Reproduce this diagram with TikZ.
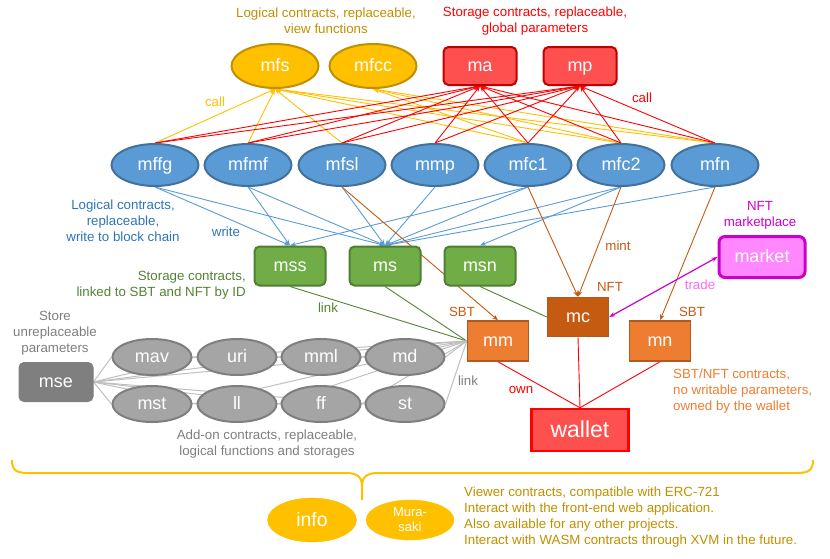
\documentclass[tikz,border=0pt]{standalone}
\usepackage{fontspec}
\setmainfont{Liberation Sans}
\usepackage{xcolor}
\usepackage{tikz}
\usetikzlibrary{shapes.geometric,arrows.meta,backgrounds}

\definecolor{gold}{HTML}{FFC000}
\definecolor{golddark}{HTML}{BF9000}
\definecolor{redfill}{HTML}{FF5050}
\definecolor{reddark}{HTML}{C00000}
\definecolor{bluefill}{HTML}{5B9BD5}
\definecolor{bluedark}{HTML}{41719C}
\definecolor{bluetext}{HTML}{2E75B6}
\definecolor{greenfill}{HTML}{70AD47}
\definecolor{greendark}{HTML}{507E32}
\definecolor{greentext}{HTML}{548235}
\definecolor{orangefill}{HTML}{ED7D31}
\definecolor{orangedark}{HTML}{AE5A21}
\definecolor{brownfill}{HTML}{C55A11}
\definecolor{pinkfill}{HTML}{FF88FF}
\definecolor{magenta}{HTML}{CC00CC}
\definecolor{greyfill}{HTML}{A5A5A5}
\definecolor{greydark}{HTML}{7F7F7F}
\definecolor{greyline}{HTML}{BFBFBF}

\newcommand{\lblfont}{\fontsize{13.3}{16}\selectfont}
\newcommand{\ctrfont}{\fontsize{18}{20}\selectfont}

\begin{document}
\begin{tikzpicture}[x=1pt,y=-1pt,>={Stealth[length=6pt,width=4.5pt]}]
        \useasboundingbox (0,0) rectangle (830,558);

        \tikzstyle{lbl}=[font=\lblfont,align=center,inner sep=0pt]
        \tikzstyle{ctr}=[font=\ctrfont,text=white,inner sep=0pt,text height=11.5pt,text depth=0pt]
        \tikzstyle{goldcall}=[color=gold,line width=0.9pt]
        \tikzstyle{redcall}=[color=red,line width=0.9pt]
        \tikzstyle{bluewrite}=[color=bluefill,line width=0.9pt]
        \tikzstyle{orangemint}=[color=brownfill,line width=0.9pt]
        \tikzstyle{greenlink}=[color=greentext,line width=0.9pt]
        \tikzstyle{greylink}=[color=greyline,line width=1pt]

        %% Viewer and storage contracts on top
        \begin{scope}[
            every node/.style={ctr,ellipse,draw=golddark,fill=gold,line width=2pt,
            minimum width=87pt,minimum height=44pt}
        ]
            \node (mfs) at (275,66) {mfs};
            \node (mfcc) at (373,66) {mfcc};
        \end{scope}
        \begin{scope}[
            every node/.style={ctr,rounded corners=5pt,draw=reddark,fill=redfill,line width=2pt,
            minimum width=73pt,minimum height=38pt}
        ]
            \node (ma) at (480,66) {ma};
            \node (mp) at (580,66) {mp};
        \end{scope}
        \node[lbl,text=golddark] (goldtext) at (326,21) {Logical contracts, replaceable,\\view functions};
        \node[lbl,text=red] (redtext) at (535,21) {Storage contracts, replaceable,\\global parameters};

        %% Logical contracts
        \begin{scope}[
            every node/.style={ctr,ellipse,draw=bluedark,fill=bluefill,line width=2pt,
            minimum width=87pt,minimum height=42pt}
        ]
            \node (mffg) at (155,165) {mffg};
            \node (mfmf) at (248,165) {mfmf};
            \node (mfsl) at (342,165) {mfsl};
            \node (mmp) at (435,165) {mmp};
            \node (mfc1) at (528,165) {mfc1};
            \node (mfc2) at (621,165) {mfc2};
            \node (mfn) at (715,165) {mfn};
        \end{scope}
        \node[lbl,text=bluetext] (bluelbl) at (123,221) {Logical contracts,\\replaceable,\\write to block chain};

        %% Storage contracts
        \begin{scope}[
            every node/.style={ctr,rounded corners=5pt,draw=greendark,fill=greenfill,line width=2pt,
            minimum width=71pt,minimum height=39pt}
        ]
            \node (mss) at (290,266) {mss};
            \node (ms) at (385,266) {ms};
            \node (msn) at (480,266) {msn};
        \end{scope}
        \node[lbl,align=right,anchor=east,text=greentext] (greenlbl) at (246,285) {Storage contracts,\\linked to SBT and NFT by ID};

        %% SBT / NFT contracts
        \node[ctr,draw=orangedark,fill=brownfill,line width=1.5pt,minimum width=61pt,minimum height=39pt] (mc) at (578,317) {mc};
        \begin{scope}[
            every node/.style={ctr,draw=orangedark,fill=orangefill,line width=1.5pt,
            minimum width=61pt,minimum height=40pt}
        ]
            \node (mm) at (498,341) {mm};
            \node (mn) at (660,341) {mn};
        \end{scope}
        \node[lbl,align=left,anchor=west,text=orangefill] (sbtnftlbl) at (673,391) {SBT/NFT contracts,\\no writable parameters,\\owned by the wallet};

        \node[ctr,rounded corners=6pt,draw=magenta,fill=pinkfill,line width=3pt,minimum width=86pt,minimum height=41pt] (market) at (762,257) {market};
        \node[lbl,text=magenta] (marketlbl) at (760,215) {NFT\\marketplace};

        \node[ctr,font=\fontsize{23}{25}\selectfont,text height=14.7pt,draw=red,fill=redfill,line width=2.5pt,minimum width=97pt,minimum height=42pt] (wallet) at (580,430) {wallet};

        %% Add-on contracts
        \node[ctr,rounded corners=5pt,draw=greydark,fill=greydark,line width=1pt,minimum width=74pt,minimum height=39pt] (mse) at (56,382) {mse};
        \node[lbl,text=greydark] (storelbl) at (55,333) {Store\\unreplaceable\\parameters};
        \begin{scope}[
            every node/.style={ctr,ellipse,draw=greydark,fill=greyfill,line width=2pt,
            minimum width=79pt,minimum height=36pt}
        ]
            \node (mav) at (152,357) {mav};
            \node (uri) at (237,357) {uri};
            \node (mml) at (321,357) {mml};
            \node (md) at (405,357) {md};
            \node (mst) at (152,404) {mst};
            \node (ll) at (237,404) {ll};
            \node (ff) at (321,404) {ff};
            \node (st) at (405,404) {st};
        \end{scope}
        \node[lbl,text=greydark] (addonlbl) at (267,444) {Add-on contracts, replaceable,\\logical functions and storages};

        %% Edge labels
        \node[lbl,text=gold] (callgold) at (215,102) {call};
        \node[lbl,text=red] (callred) at (642,98) {call};
        \node[lbl,text=bluetext] (writelbl) at (226,232) {write};
        \node[lbl,text=greentext] (linkgreen) at (328,308) {link};
        \node[lbl,text=greydark] (linkgrey) at (468,381) {link};
        \node[lbl,text=brownfill] (mintlbl) at (618,246) {mint};
        \node[lbl,text=brownfill] (nftlbl) at (610,287) {NFT};
        \node[lbl,text=brownfill] (sbtmm) at (462,312) {SBT};
        \node[lbl,text=brownfill] (sbtmn) at (692,312) {SBT};
        \node[lbl,text=pinkfill!80!magenta] (tradelbl) at (700,285) {trade};
        \node[lbl,text=red] (ownlbl) at (521,390) {own};

        %% Edges, behind the nodes
        \begin{scope}[on background layer]
            \path[->,goldcall] (mffg.north) edge (mfs.south);
            \path[->,goldcall] (mfmf.north) edge (mfs.south);
            \path[->,goldcall] (mfsl.north) edge (mfs.south);
            \path[->,goldcall] (mfc1.north) edge (mfs.south) edge (mfcc.south);
            \path[->,goldcall] (mfc2.north) edge (mfs.south) edge (mfcc.south);
            \path[->,goldcall] (mfn.north) edge (mfs.south) edge (mfcc.south);

            \path[->,redcall] (mffg.north) edge (ma.south) edge (mp.south);
            \path[->,redcall] (mfmf.north) edge (ma.south) edge (mp.south);
            \path[->,redcall] (mfsl.north) edge (ma.south) edge (mp.south);
            \path[->,redcall] (mmp.north) edge (ma.south) edge (mp.south);
            \path[->,redcall] (mfc1.north) edge (ma.south) edge (mp.south);
            \path[->,redcall] (mfc2.north) edge (ma.south) edge (mp.south);
            \path[->,redcall] (mfn.north) edge (ma.south) edge (mp.south);

            \path[->,bluewrite] (mffg.south) edge (mss.north) edge (ms.north);
            \path[->,bluewrite] (mfmf.south) edge (mss.north) edge (ms.north);
            \path[->,bluewrite] (mfsl.south) edge (ms.north);
            \path[->,bluewrite] (mmp.south) edge (ms.north);
            \path[->,bluewrite] (mfc1.south) edge (mss.north) edge (ms.north);
            \path[->,bluewrite] (mfc2.south) edge (ms.north) edge (msn.north);
            \path[->,bluewrite] (mfn.south) edge (ms.north);

            \path[->,orangemint] (mfsl.south) edge (mm.north);
            \path[->,orangemint] (mfc1.south) edge (mc.north);
            \path[->,orangemint] (mfc2.south) edge (mc.north);
            \path[->,orangemint] (mfn.south) edge (mn.north);

            \path[greenlink] (mss.south) edge (mm.west);
            \path[greenlink] (ms.south) edge (mm.west);
            \path[greenlink] (msn.south) edge (mc.west);

            \path[greylink] (mse.east) edge (mav.west) edge (uri.west) edge (mml.west) edge (md.west)
                edge (mst.west) edge (ll.west) edge (ff.west) edge (st.west);
            \path[greylink] (mm.west) edge (mav.east) edge (uri.east) edge (mml.east) edge (md.east)
                edge (mst.east) edge (ll.east) edge (ff.east) edge (st.east);

            \path[<->,color=magenta,line width=1.2pt] (mc.east) edge (market.west);

            \path[redcall] (mm.south) edge (wallet.north);
            \path[redcall] (mc.south) edge (wallet.north);
            \path[redcall] (mn.south) edge (wallet.north);
        \end{scope}

        %% Viewer contracts below the brace
        \draw[gold,line width=2pt] (12,460) .. controls (12,470) and (16,473) .. (28,473) -- (346,473)
            .. controls (356,473) and (362,476) .. (362,486) -- (362,500);
        \draw[gold,line width=2pt] (813,460) .. controls (813,470) and (809,473) .. (797,473) -- (378,473)
            .. controls (368,473) and (362,476) .. (362,486);
        \node[ctr,ellipse,fill=gold,draw=gold,text height=12.5pt,minimum width=89pt,minimum height=44pt,font=\fontsize{19.5}{21}\selectfont] (info) at (312,520) {info};
        \node[ellipse,fill=gold,draw=gold,text=white,inner sep=0pt,minimum width=88pt,minimum height=40pt,font=\fontsize{13}{15}\selectfont,align=center] (murasaki) at (410,520) {Mura-\\saki};
        \node[lbl,align=left,anchor=west,text=golddark] (viewerlbl) at (464,517)
            {Viewer contracts, compatible with ERC-721\\Interact with the front-end web application.\\Also available for any other projects.\\Interact with WASM contracts through XVM in the future.};
    \end{tikzpicture}
\end{document}
